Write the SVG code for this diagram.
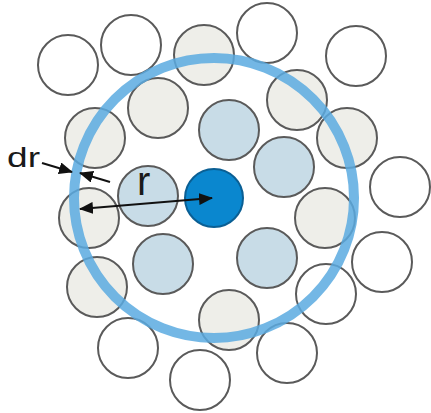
<svg xmlns="http://www.w3.org/2000/svg" width="431" height="413" viewBox="0 0 431 413">
<style>
.c{stroke:#5a5a5a;stroke-width:2}
.w{fill:#ffffff}
.g{fill:#eeeee9}
.b{fill:#c8dce7}
.t{font-family:"Liberation Sans",Arial,sans-serif;fill:#1a1a1a}
.a{stroke:#111;stroke-width:2;fill:none}
</style>
<defs>
<marker id="ah" viewBox="0 0 14 12" refX="13" refY="6" markerWidth="14" markerHeight="12" orient="auto-start-reverse" markerUnits="userSpaceOnUse">
<path d="M0,0 L14,6 L0,12 z" fill="#111"/>
</marker>
</defs>
<rect width="431" height="413" fill="#fff"/>
<g id="outer">
<circle id="w1" class="c w" cx="68" cy="65" r="30"/>
<circle id="w2" class="c w" cx="131" cy="45" r="30"/>
<circle id="w3" class="c w" cx="267" cy="33" r="30"/>
<circle id="w4" class="c w" cx="356" cy="56" r="30"/>
<circle id="w5" class="c w" cx="400" cy="187" r="30"/>
<circle id="w6" class="c w" cx="382" cy="262" r="30"/>
<circle id="w7" class="c w" cx="326" cy="294" r="30"/>
<circle id="w8" class="c w" cx="287" cy="353" r="30"/>
<circle id="w9" class="c w" cx="200" cy="380" r="30"/>
<circle id="w10" class="c w" cx="128" cy="348" r="30"/>
</g>
<g id="shell">
<circle id="g1" class="c g" cx="204" cy="55" r="30"/>
<circle id="g2" class="c g" cx="158" cy="108" r="30"/>
<circle id="g3" class="c g" cx="95" cy="138" r="30"/>
<circle id="g4" class="c g" cx="297" cy="100" r="30"/>
<circle id="g5" class="c g" cx="347" cy="138" r="30"/>
<circle id="g6" class="c g" cx="325" cy="218" r="30"/>
<circle id="g7" class="c g" cx="89" cy="218" r="30"/>
<circle id="g8" class="c g" cx="97" cy="287" r="30"/>
<circle id="g9" class="c g" cx="229" cy="320" r="30"/>
</g>
<g id="inner">
<circle id="b1" class="c b" cx="229" cy="130" r="30"/>
<circle id="b2" class="c b" cx="284" cy="167" r="30"/>
<circle id="b3" class="c b" cx="148" cy="196" r="30"/>
<circle id="b4" class="c b" cx="163" cy="264" r="30"/>
<circle id="b5" class="c b" cx="267" cy="258" r="30"/>
</g>
<g id="center">
<circle cx="214" cy="198" r="29" fill="#0a87cf" stroke="#0a5f94" stroke-width="2"/>
</g>
<g id="ring">
<circle cx="214" cy="198" r="140" fill="none" stroke="#5aaae0" stroke-width="10" opacity="0.85"/>
</g>
<g id="connectors">
<line class="a" x1="42" y1="163" x2="72" y2="172" marker-end="url(#ah)"/>
<line class="a" x1="110" y1="182" x2="80" y2="173" marker-end="url(#ah)"/>
<line class="a" x1="80" y1="209" x2="212" y2="198" marker-start="url(#ah)" marker-end="url(#ah)"/>
</g>
<g id="labels">
<text class="t" x="7" y="167" font-size="28" textLength="33" lengthAdjust="spacingAndGlyphs">dr</text>
<text class="t" x="137" y="195" font-size="40">r</text>
</g>
</svg>
